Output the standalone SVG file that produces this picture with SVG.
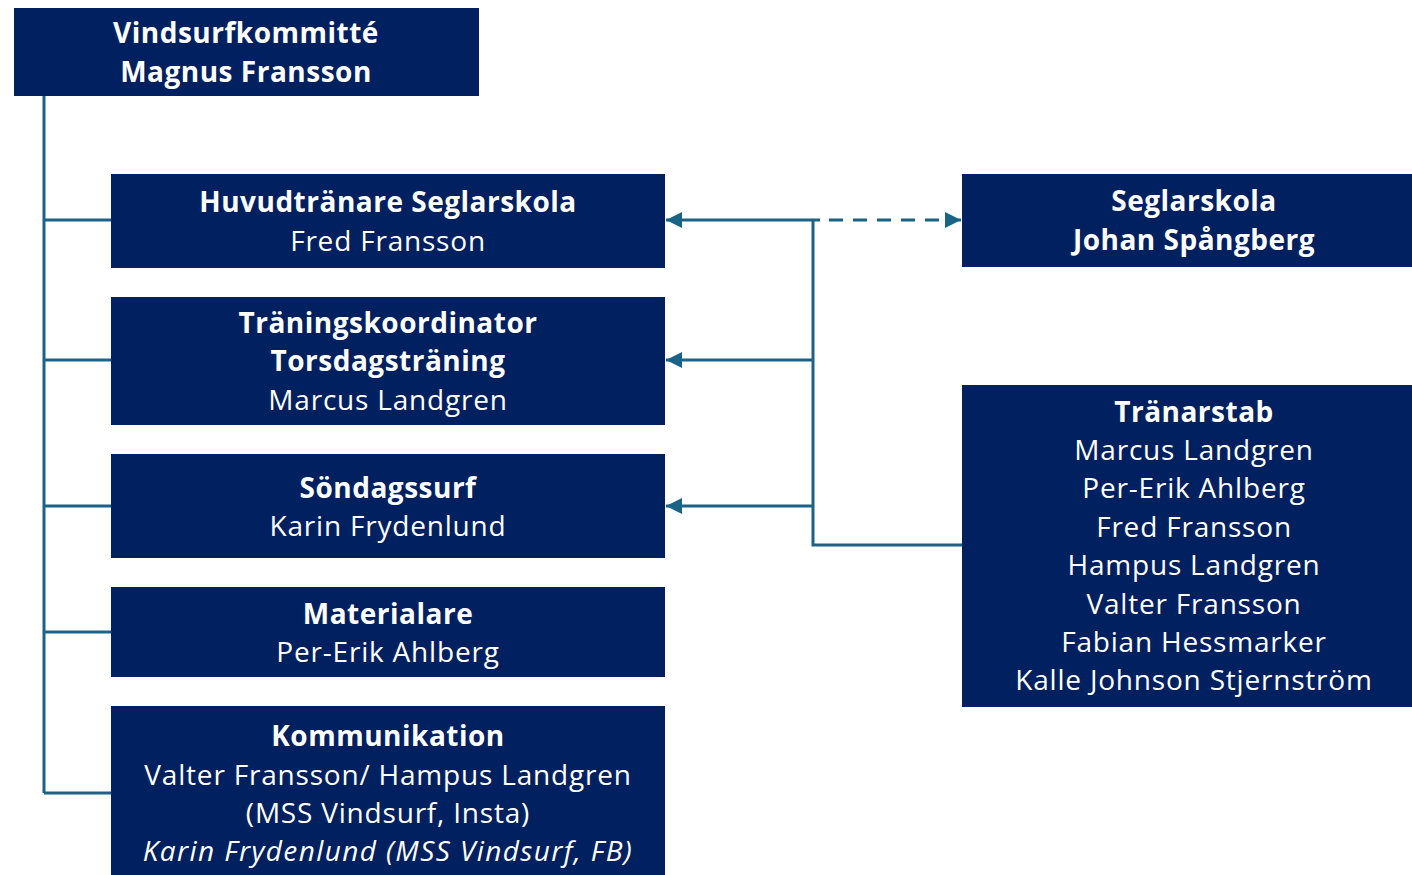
<svg xmlns="http://www.w3.org/2000/svg" width="1412" height="875" viewBox="0 0 1412 875">
<style>
.box{fill:#002060}
text{font-family:"Open Sans","Noto Sans","Liberation Sans",sans-serif;font-size:28px;fill:#ffffff;text-anchor:middle;letter-spacing:0.8px}
.b{font-weight:bold;letter-spacing:0.5px}
.i{font-style:italic;letter-spacing:1.4px}
.c{stroke:#1a6386;stroke-width:3;fill:none}
.d{stroke-dasharray:14 10}
</style>
<defs>
<marker id="ah" viewBox="0 0 10 10" refX="10" refY="5" markerWidth="16" markerHeight="16" markerUnits="userSpaceOnUse" orient="auto"><path d="M0,0 L10,5 L0,10 Z" fill="#1a6386"/></marker>
</defs>
<rect width="1412" height="875" fill="#ffffff"/>
<g id="connectors">
<path class="c" d="M44,96 V793"/>
<path class="c" d="M44,220 H111 M44,360 H111 M44,506 H111 M44,632 H111 M44,793 H111"/>
<path class="c" d="M813,220 V545 H962"/>
<path class="c" d="M820,220 H666" marker-end="url(#ah)"/>
<path class="c" d="M813,360 H666" marker-end="url(#ah)"/>
<path class="c" d="M813,506 H666" marker-end="url(#ah)"/>
<path class="c d" d="M829,220 H961" marker-end="url(#ah)"/>
</g>
<g id="n-top"><rect class="box" x="14" y="8" width="465" height="88"/>
<text class="b" x="246" y="43">Vindsurfkommitté</text><text class="b" x="246" y="82">Magnus Fransson</text></g>
<g id="n-huvud"><rect class="box" x="111" y="174" width="554" height="94"/>
<text class="b" x="388" y="212">Huvudtränare Seglarskola</text><text x="388" y="251">Fred Fransson</text></g>
<g id="n-traning"><rect class="box" x="111" y="297" width="554" height="128"/>
<text class="b" x="388" y="333">Träningskoordinator</text><text class="b" x="388" y="371">Torsdagsträning</text><text x="388" y="410">Marcus Landgren</text></g>
<g id="n-sondag"><rect class="box" x="111" y="454" width="554" height="104"/>
<text class="b" x="388" y="498">Söndagssurf</text><text x="388" y="536">Karin Frydenlund</text></g>
<g id="n-material"><rect class="box" x="111" y="587" width="554" height="90"/>
<text class="b" x="388" y="624">Materialare</text><text x="388" y="662">Per-Erik Ahlberg</text></g>
<g id="n-komm"><rect class="box" x="111" y="706" width="554" height="169"/>
<text class="b" x="388" y="746">Kommunikation</text><text x="388" y="785">Valter Fransson/ Hampus Landgren</text><text x="388" y="823">(MSS Vindsurf, Insta)</text><text class="i" x="388" y="861">Karin Frydenlund (MSS Vindsurf, FB)</text></g>
<g id="n-seglar"><rect class="box" x="962" y="174" width="450" height="93"/>
<text class="b" x="1194" y="211">Seglarskola</text><text class="b" x="1194" y="250">Johan Spångberg</text></g>
<g id="n-tranarstab"><rect class="box" x="962" y="385" width="450" height="322"/>
<text class="b" x="1194" y="422">Tränarstab</text>
<text x="1194" y="460">Marcus Landgren</text>
<text x="1194" y="498">Per-Erik Ahlberg</text>
<text x="1194" y="537">Fred Fransson</text>
<text x="1194" y="575">Hampus Landgren</text>
<text x="1194" y="614">Valter Fransson</text>
<text x="1194" y="652">Fabian Hessmarker</text>
<text x="1194" y="690">Kalle Johnson Stjernström</text></g>
</svg>
